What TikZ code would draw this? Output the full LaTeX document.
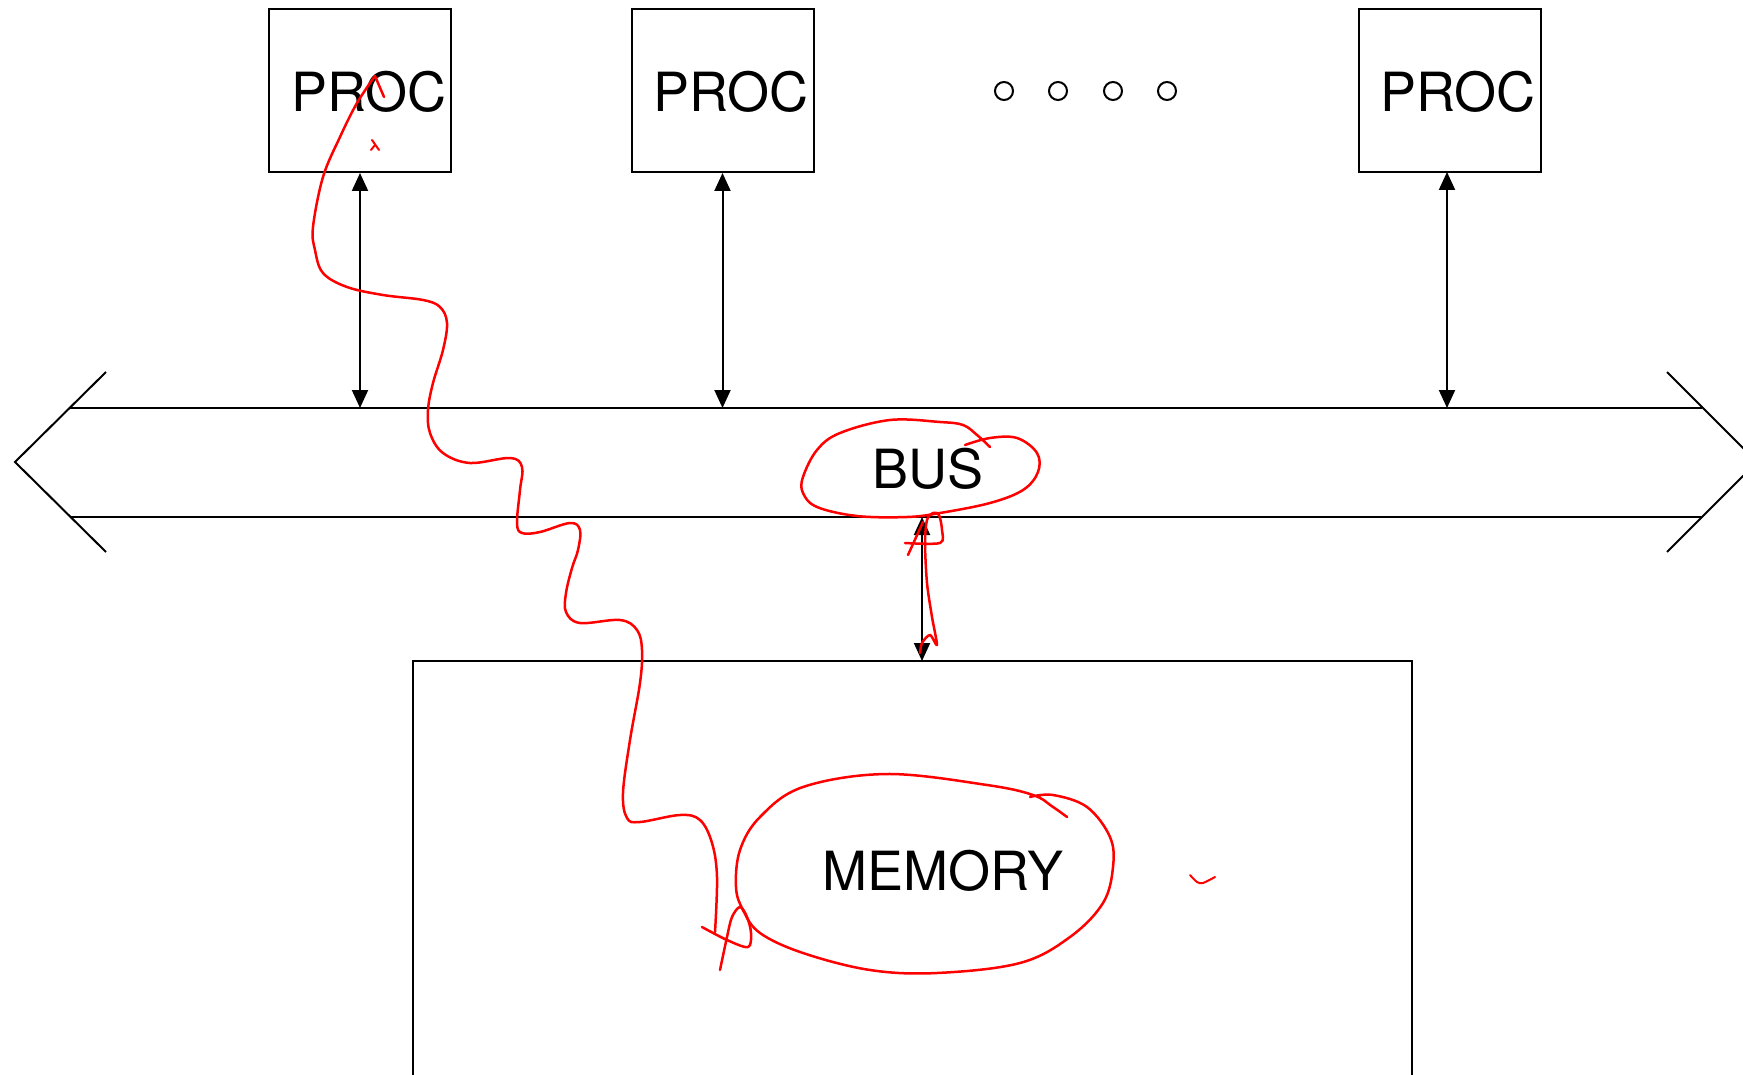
\documentclass[tikz,border=0pt]{standalone}
\usepackage{fontspec}
\setmainfont{TeX Gyre Heros}
\usetikzlibrary{arrows.meta}
\begin{document}
\begin{tikzpicture}[x=1pt,y=-1pt,
  line width=2pt, line join=miter,
  procbox/.style={draw, rectangle, minimum width=182pt, minimum height=163pt, inner sep=0pt},
  lbl/.style={font=\fontsize{54}{60}\selectfont, inner sep=0pt, anchor=base},
  biarrow/.style={{Triangle[length=18pt,width=16pt]}-{Triangle[length=18pt,width=16pt]}, line width=2pt},
  dot/.style={draw, circle, minimum size=18pt, inner sep=0pt, line width=2pt},
  ink/.style={draw=red, line width=2.5pt, line cap=round, line join=round}]
\useasboundingbox (0,0) rectangle (1743,1075);
\clip (0,0) rectangle (1743,1075);
% processors
\node[procbox] (p1) at (360,90.5) {};
\node[procbox] (p2) at (722.5,90.5) {};
\node[procbox] (p3) at (1449.5,90.5) {};
\node[lbl] (p1t) at (369,112) {PROC};
\node[lbl] (p2t) at (731,112) {PROC};
\node[lbl] (p3t) at (1458,112) {PROC};
% dots
\node[dot] (d1) at (1004,91) {};
\node[dot] (d2) at (1058,91) {};
\node[dot] (d3) at (1113,91) {};
\node[dot] (d4) at (1167,91) {};
% bus
\coordinate (bustop) at (0,408);
\coordinate (busbot) at (0,517);
\draw (106,372) -- (15,462) -- (106,552);
\draw (69,408) -- (1702,408);
\draw (70,517) -- (1702,517);
\draw (1667,372) -- (1757,462) -- (1667,552);
\node[lbl] (bus) at (928,488) {BUS};
% memory
\draw (413,1100) -- (413,661) -- (1412,661) -- (1412,1100);
\coordinate (memtop) at (922,661);
\node[lbl] (mem) at (943,890) {MEMORY};
% connectors
\draw[biarrow] (p1.south) -- (p1.south |- bustop);
\draw[biarrow] (p2.south) -- (p2.south |- bustop);
\draw[biarrow] (1447,172) -- (1447,408);
\draw[biarrow] (memtop |- busbot) -- (memtop);
% red annotations
\draw[ink] plot[smooth, tension=0.6] coordinates {(375,76) (357,103) (340,137) (323,177) (313,227) (315,250) (323,273) (347,287) (383,295) (423,300) (440,307) (447,323) (443,350) (433,383) (428,410) (430,433) (443,453) (470,463) (510,458) (522,467) (520,490) (517,523) (522,533) (540,532) (570,523) (580,530) (578,550) (572,568) (566,593) (566,612) (580,623) (620,620) (637,630) (642,650) (640,683) (630,740) (623,793) (627,818) (640,822) (680,815) (700,820) (712,843) (717,877) (715,932)};
\draw[ink] (375,76) -- (384,97);
\draw[ink, line width=2pt] (372,140) -- (379,150);
\draw[ink, line width=2pt] (375,145) -- (371,150);
\draw[ink] plot[smooth, tension=0.55] coordinates {(702,927) (727,940) (748,947) (751,933) (747,917) (740,907) (732,917) (727,937) (720,970)};
\draw[ink] plot[smooth, tension=0.6] coordinates {(1030,797) (1053,795) (1087,807) (1110,837) (1113,867) (1103,903) (1070,937) (1020,963) (937,973) (870,970) (803,953) (760,933) (743,910) (736,887) (740,850) (760,817) (803,787) (887,774) (987,785) (1033,795) (1053,807) (1067,817)};
\draw[ink] plot[smooth, tension=0.6] coordinates {(965,445) (990,438) (1017,438) (1037,453) (1038,472) (1023,490) (990,503) (940,513) (907,517) (857,516) (817,507) (803,493) (803,477) (817,450) (840,433) (890,420) (940,422) (963,425) (977,435) (990,447)};
\draw[ink] (908,555) -- (923,522);
\draw[ink] plot[smooth, tension=0.5] coordinates {(905,543) (940,543) (942,530) (939,515) (933,513) (927,520) (925,543) (927,583) (932,617) (937,645) (930,635) (922,643) (920,653)};
\draw[ink, line width=2pt] plot[smooth, tension=0.5] coordinates {(1190,875) (1197,882) (1203,883) (1215,877)};
\end{tikzpicture}
\end{document}
